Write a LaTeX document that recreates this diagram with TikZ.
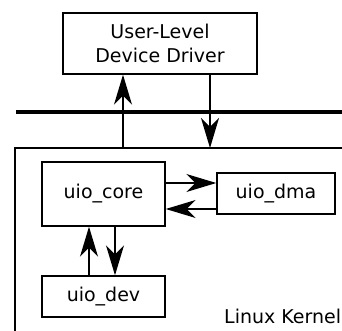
\documentclass[tikz,border=0pt]{standalone}
\usepackage{fontspec}
\setmainfont{DejaVu Sans}
\usetikzlibrary{arrows.meta}
\begin{document}
\begin{tikzpicture}[x=1pt,y=-1pt,
  box/.style={draw, line width=1.4pt, inner sep=0pt, font=\fontsize{19}{24}\selectfont},
  arr/.style={line width=1.3pt, -{Stealth[length=30pt,width=18pt,inset=9pt]}},
  lbl/.style={inner sep=0pt, font=\fontsize{19}{24}\selectfont}]
\useasboundingbox (0,0) rectangle (342,331);
\clip (0,0) rectangle (342,331);
% kernel region
\draw[line width=1.4pt] (15,340) -- (15,148) -- (350,148);
\draw[line width=4.5pt] (16,112) -- (350,112);
\coordinate (kup) at (123,148);
\coordinate (kdn) at (210,148);
\node[box, minimum width=194pt, minimum height=61pt, align=center] (user) at (160,43.5) {User-Level\\Device Driver};
\node[box, minimum width=123pt, minimum height=64pt] (core) at (103.5,194) {uio\_core};
\node[box, minimum width=118pt, minimum height=41pt] (dma) at (276,193.5) {uio\_dma};
\node[box, minimum width=123pt, minimum height=41pt] (dev) at (103.5,296.5) {uio\_dev};
\node[lbl, anchor=base west] (lk) at (224,323) {Linux Kernel};
\draw[arr] (kup) -- (kup |- user.south);
\draw[arr] (kdn |- user.south) -- (kdn);
\draw[arr] ([yshift=11pt]core.east) -- ([yshift=11pt]core.east -| dma.west);
\draw[arr] ([yshift=-15.5pt]dma.west) -- ([yshift=-15.5pt]dma.west -| core.east);
\draw[arr] ([xshift=-14.5pt]dev.north) -- ([xshift=-14.5pt]core.south);
\draw[arr] ([xshift=11.5pt]core.south) -- ([xshift=11.5pt]dev.north);
\end{tikzpicture}
\end{document}
